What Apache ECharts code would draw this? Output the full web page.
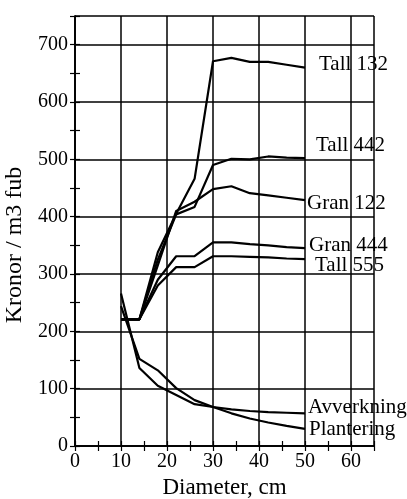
<!DOCTYPE html>
<html>
<head>
<meta charset="utf-8">
<script src="https://cdn.jsdelivr.net/npm/echarts@6/dist/echarts.min.js"></script>
<style>
  html, body { margin: 0; padding: 0; background: #fff; }
  #chart { width: 407px; height: 499px; }
</style>
</head>
<body>
<div id="chart"></div>
<script>
// ---- data ----
const diameters = [10, 14, 18, 22, 26, 30, 34, 38, 42, 46, 50];
const seriesNames = ['Tall 132', 'Tall 442', 'Gran 122', 'Gran 444', 'Tall 555', 'Avverkning', 'Plantering'];
const tall132 = [221, 221, 338, 405, 466, 671, 677, 670, 670, 665, 660];
const tall442 = [221, 221, 325, 404, 417, 490, 501, 500, 505, 503, 502];
const gran122 = [221, 221, 315, 410, 426, 448, 453, 441, 437, 433, 429];
const gran444 = [221, 221, 290, 331, 331, 355, 355, 352, 350, 347, 345];
const tall555 = [221, 221, 280, 312, 312, 331, 331, 330, 329, 327, 326];
const avverkning = [244, 152, 132, 101, 80, 68, 64, 61, 59, 58, 57];
const plantering = [266, 136, 105, 89, 73, 68, 57, 48, 41, 35, 30];
const xTickLabels = ['0', '10', '20', '30', '40', '50', '60'];
const yTickLabels = ['0', '100', '200', '300', '400', '500', '600', '700'];

// ---- styling ----
const FONT = 'Liberation Serif';
const labelOffsets = [[14, -3], [11, -13], [2, 3], [4, -3], [10, 6], [3, -6], [4, 1]];
const allValues = [tall132, tall442, gran122, gran444, tall555, avverkning, plantering];

const series = allValues.map((vals, k) => {
  const last = vals.length - 1;
  return {
    type: 'line',
    name: seriesNames[k],
    xAxisIndex: 0,
    yAxisIndex: 0,
    data: diameters.map((d, i) => [d, vals[i]]),
    symbol: 'none',
    lineStyle: { color: '#000', width: 2.2 },
    silent: true,
    markPoint: {
      symbol: 'circle',
      symbolSize: 0,
      silent: true,
      data: [{ coord: [diameters[last], vals[last]] }],
      label: {
        show: true,
        position: 'right',
        distance: 0,
        offset: labelOffsets[k],
        formatter: seriesNames[k],
        color: '#000',
        fontFamily: FONT,
        fontSize: 21
      }
    }
  };
});

const lineCol = '#000';
const chart = echarts.init(document.getElementById('chart'));
chart.setOption({
  animation: false,
  backgroundColor: '#fff',
  grid: { left: 75, right: 33, top: 16, bottom: 53, containLabel: false, outerBoundsMode: 'none' },
  xAxis: [
    {
      type: 'value', position: 'bottom', min: 0, max: 65, interval: 10,
      axisLine: { show: true, lineStyle: { color: lineCol, width: 1.5 } },
      axisTick: { show: false },
      splitLine: { show: true, lineStyle: { color: lineCol, width: 1.5 } },
      axisLabel: {
        color: '#000', fontFamily: FONT, fontSize: 20, margin: 6,
        showMaxLabel: false,
        formatter: v => xTickLabels[Math.round(v / 10)] || ''
      },
      name: 'Diameter, cm', nameLocation: 'middle', nameGap: 29,
      nameTextStyle: { color: '#000', fontFamily: FONT, fontSize: 23 }
    },
    {
      type: 'value', position: 'bottom', min: 0, max: 65, interval: 5,
      axisLine: { show: false },
      axisTick: { show: true, inside: true, length: 5, lineStyle: { color: lineCol, width: 1.2 } },
      splitLine: { show: false }, axisLabel: { show: false }
    },
    {
      type: 'value', position: 'top', min: 0, max: 65, interval: 5,
      axisLine: { show: true, lineStyle: { color: lineCol, width: 1.5 } },
      axisTick: { show: true, inside: true, length: 5, lineStyle: { color: lineCol, width: 1.2 } },
      splitLine: { show: false }, axisLabel: { show: false }
    }
  ],
  yAxis: [
    {
      type: 'value', position: 'left', min: 0, max: 750, interval: 100,
      axisLine: { show: true, lineStyle: { color: lineCol, width: 1.5 } },
      axisTick: { show: false },
      splitLine: { show: true, lineStyle: { color: lineCol, width: 1.5 } },
      axisLabel: {
        color: '#000', fontFamily: FONT, fontSize: 20, margin: 7,
        showMaxLabel: false,
        formatter: v => yTickLabels[Math.round(v / 100)] || ''
      },
      name: 'Kronor / m3 fub', nameLocation: 'middle', nameGap: 37,
      nameTextStyle: { color: '#000', fontFamily: FONT, fontSize: 24, padding: [0, 28, 0, 0] }
    },
    {
      type: 'value', position: 'left', min: 0, max: 750, interval: 50,
      axisLine: { show: false },
      axisTick: { show: true, inside: true, length: 5, lineStyle: { color: lineCol, width: 1.2 } },
      splitLine: { show: false }, axisLabel: { show: false }
    },
    {
      type: 'value', position: 'right', min: 0, max: 750, interval: 50,
      axisLine: { show: true, lineStyle: { color: lineCol, width: 1.5 } },
      axisTick: { show: true, inside: true, length: 5, lineStyle: { color: lineCol, width: 1.2 } },
      splitLine: { show: false }, axisLabel: { show: false }
    }
  ],
  series: series
});
</script>
</body>
</html>
